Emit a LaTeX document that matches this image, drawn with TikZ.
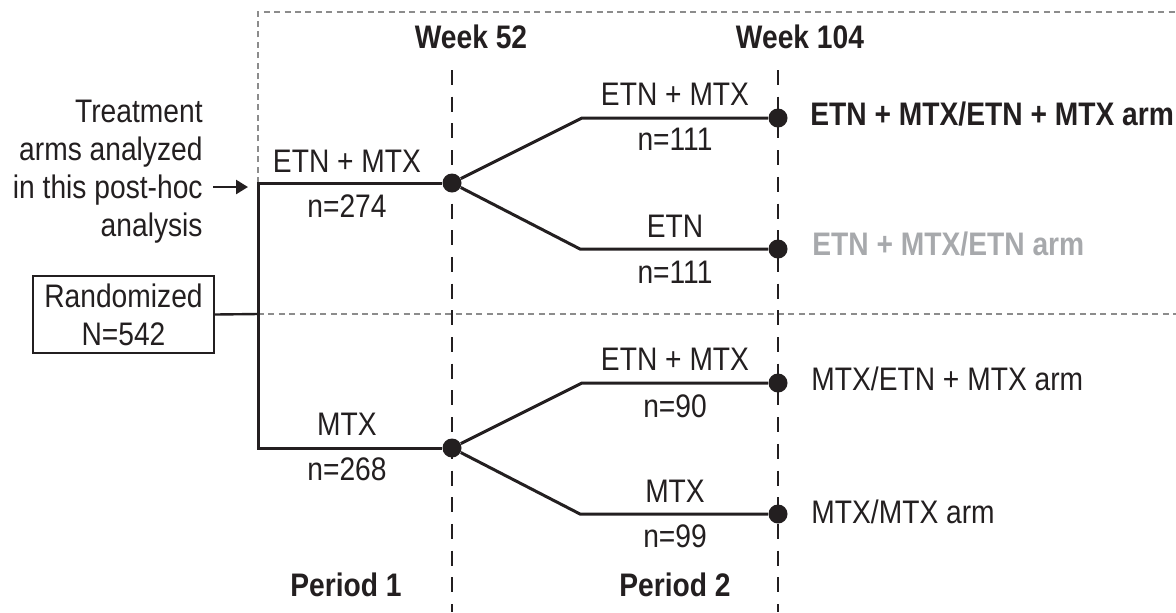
\documentclass[tikz,border=0pt]{standalone}
\usepackage{fontspec}
\setmainfont{Liberation Sans}[FakeStretch=0.865]
\usetikzlibrary{arrows.meta}
\definecolor{ink}{HTML}{231F20}
\definecolor{boxgrey}{HTML}{8C8C8C}
\definecolor{armgrey}{HTML}{A7A9AC}
\begin{document}
\begin{tikzpicture}[x=0.5pt,y=-0.5pt,
  every node/.style={font=\fontsize{16.3}{19}\selectfont, text=ink, inner sep=0pt},
  lbl/.style={anchor=base},
  boldlbl/.style={anchor=base, font=\fontsize{16.3}{19}\selectfont\bfseries},
  solidline/.style={draw=ink, line width=1.5pt},
  weekline/.style={draw=ink, line width=1.3pt, dash pattern=on 7.5pt off 5.85pt},
  greybox/.style={draw=boxgrey, line width=0.6pt, dash pattern=on 3pt off 2.2pt},
  dotn/.style={circle, fill=ink, minimum size=9.5pt, inner sep=0pt},
  arm/.style={anchor=base west},
  randbox/.style={draw=ink, line width=1.2pt, align=center, minimum width=90.5pt, minimum height=38.5pt},
]
\useasboundingbox (0,0) rectangle (1176,612);

% grey dashed frame
\coordinate (gA) at (258,183);
\coordinate (gB) at (258,12);
\coordinate (gC) at (1200,12);
\coordinate (gD) at (258,314);
\coordinate (gE) at (1200,314);
\draw[greybox] (gA) -- (gB) -- (gC);
\draw[greybox] (gD) -- (gE);

% week lines
\coordinate (w52t) at (452,70);
\coordinate (w52b) at (452,612);
\coordinate (w104t) at (778,70);
\coordinate (w104b) at (778,612);
\draw[weekline] (w52t) -- (w52b);
\draw[weekline] (w104t) -- (w104b);
\node[boldlbl] (wk52) at (471,48) {Week 52};
\node[boldlbl] (wk104) at (800,48) {Week 104};

% randomized
\node[randbox] (rand) at (123.5,314.5) {Randomized\\N=542};
\coordinate (jtop) at (258,183);
\coordinate (jmid) at (258,314);
\coordinate (jbot) at (258,448);

% dots
\node[dotn] (d1) at (452,183) {};
\node[dotn] (d2) at (452,448) {};
\node[dotn] (e1) at (778,118) {};
\node[dotn] (e2) at (778,249) {};
\node[dotn] (e3) at (778,383) {};
\node[dotn] (e4) at (778,514) {};
\coordinate (b1) at (582,118);
\coordinate (b2) at (580,249);
\coordinate (b3) at (582,383);
\coordinate (b4) at (580,514);

% connectors
\draw[solidline, line width=1.2pt] (rand.east) -- (jmid);
\draw[solidline] (d1) -- (jtop) -- (jbot) -- (d2);
\draw[solidline] (d1) -- (b1) -- (e1);
\draw[solidline] (d1) -- (b2) -- (e2);
\draw[solidline] (d2) -- (b3) -- (e3);
\draw[solidline] (d2) -- (b4) -- (e4);

% period 1 labels
\node[lbl] (p1a) at (347,172) {ETN + MTX};
\node[lbl] (p1an) at (347,217) {n=274};
\node[lbl] (p1b) at (347,435) {MTX};
\node[lbl] (p1bn) at (347,480) {n=268};

% period 2 labels
\node[lbl] (q1) at (675,105) {ETN + MTX};
\node[lbl] (q1n) at (675,150) {n=111};
\node[lbl] (q2) at (675,237) {ETN};
\node[lbl] (q2n) at (675,283) {n=111};
\node[lbl] (q3) at (675,370) {ETN + MTX};
\node[lbl] (q3n) at (675,417) {n=90};
\node[lbl] (q4) at (675,502) {MTX};
\node[lbl] (q4n) at (675,547) {n=99};

\node[boldlbl] (per1) at (346,596) {Period 1};
\node[boldlbl] (per2) at (675,596) {Period 2};

% arm labels
\node[arm, font=\fontsize{16.3}{19}\selectfont\bfseries] (arm1) at (810,125) {ETN + MTX/ETN + MTX arm};
\node[arm, font=\fontsize{16.3}{19}\selectfont\bfseries, text=armgrey] (arm2) at (812,255) {ETN + MTX/ETN arm};
\node[arm] (arm3) at (811,390) {MTX/ETN + MTX arm};
\node[arm] (arm4) at (811,523) {MTX/MTX arm};

% treatment note
\node[anchor=east, align=right] (treat) at (203,172) {Treatment\\arms analyzed\\in this post-hoc\\analysis};
\coordinate (ta) at (213,187);
\coordinate (tb) at (248,187);
\draw[draw=ink, line width=1.3pt, -{Triangle[length=6pt,width=7pt]}] (ta) -- (tb);
\end{tikzpicture}
\end{document}
